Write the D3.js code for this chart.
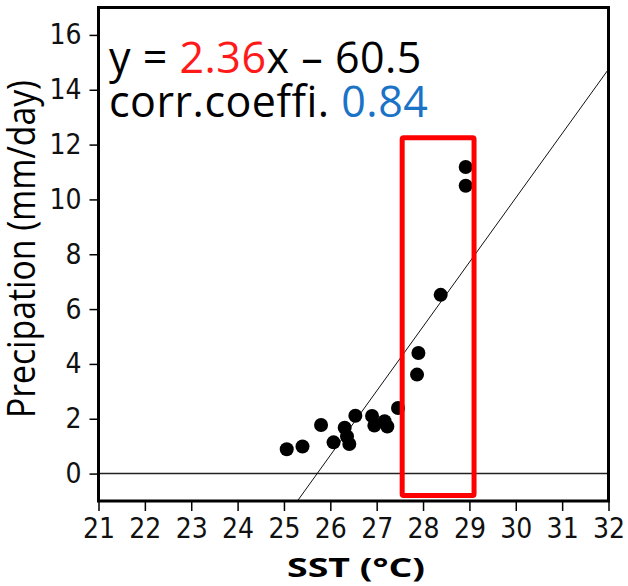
<!DOCTYPE html>
<html>
<head>
<meta charset="utf-8">
<script src="https://cdn.jsdelivr.net/npm/d3@7"></script>
<style>
  body { margin: 0; background: #fff; }
</style>
</head>
<body>
<div id="scatter"></div>
<script>
// data
const sstValues  = [25.06, 25.40, 25.80, 26.07, 26.31, 26.41, 26.36, 26.54, 26.90, 26.95, 27.17, 27.23, 27.46, 27.90, 27.87, 28.38, 28.92, 28.92];
const precValues = [0.89, 0.99, 1.77, 1.14, 1.67, 1.08, 1.35, 2.11, 2.10, 1.75, 1.91, 1.72, 2.39, 4.40, 3.61, 6.52, 11.18, 10.50];
const xTicks = [21, 22, 23, 24, 25, 26, 27, 28, 29, 30, 31, 32];
const yTicks = [0, 2, 4, 6, 8, 10, 12, 14, 16];
// regression line as drawn (end points on the frame)
const fitX = [25.29, 32];
const fitY = [-1, 14.75];
// highlighted SST band
const boxX = [27.55, 29.1];
const boxY = [-0.8, 12.25];
const slopeText = "2.36";
const interceptText = "60.5";
const corrText = "0.84";

const width = 628, height = 586;

const svg = d3.select("#scatter")
    .append("svg")
    .attr("width", width)
    .attr("height", height);

const x = d3.scaleLinear().domain([21, 32]).range([98.5, 608.5]);
const y = d3.scaleLinear().domain([-1, 17]).range([501, 7.5]);

const points = sstValues.map((s, i) => ({sst: s, prec: precValues[i]}));

//x axis with ticks below
const xAxisG = svg.append("g")
    .attr("transform", "translate(0," + y(-1) + ")")
    .call(d3.axisBottom(x).tickValues(xTicks).tickSize(10).tickPadding(7).tickFormat(d3.format("d")));
xAxisG.select(".domain").remove();

//y axis with ticks on the left
const yAxisG = svg.append("g")
    .attr("transform", "translate(" + x(21) + ",0)")
    .call(d3.axisLeft(y).tickValues(yTicks).tickSize(9).tickPadding(8).tickFormat(d3.format("d")));
yAxisG.select(".domain").remove();

svg.selectAll(".tick line").attr("stroke", "#000").attr("stroke-width", 1.5);
svg.selectAll(".tick text")
    .attr("fill", "#111")
    .style("font-family", "'Liberation Sans Narrow', 'DejaVu Sans Condensed', sans-serif")
    .style("font-size", "28px");

// zero line
svg.append("line")
    .attr("x1", x(21)).attr("x2", x(32))
    .attr("y1", y(0)).attr("y2", y(0))
    .attr("stroke", "#222")
    .attr("stroke-width", 1.5);

// regression line
svg.append("line")
    .attr("x1", x(fitX[0])).attr("y1", y(fitY[0]))
    .attr("x2", x(fitX[1])).attr("y2", y(fitY[1]))
    .attr("stroke", "#111")
    .attr("stroke-width", 1);

// data points
svg.selectAll(".dot")
    .data(points)
    .enter().append("circle")
    .attr("class", "dot")
    .attr("cx", d => x(d.sst))
    .attr("cy", d => y(d.prec))
    .attr("r", 7)
    .attr("fill", "#000");

// red box
svg.append("rect")
    .attr("x", x(boxX[0]))
    .attr("y", y(boxY[1]))
    .attr("width", x(boxX[1]) - x(boxX[0]))
    .attr("height", y(boxY[0]) - y(boxY[1]))
    .attr("rx", 1.5)
    .attr("fill", "none")
    .attr("stroke", "#ff0000")
    .attr("stroke-width", 5);

// frame
svg.append("rect")
    .attr("x", x(21))
    .attr("y", y(17))
    .attr("width", x(32) - x(21))
    .attr("height", y(-1) - y(17))
    .attr("fill", "none")
    .attr("stroke", "#000")
    .attr("stroke-width", 3);

// equation text
const eq = svg.append("text")
    .attr("x", 109)
    .attr("y", 73)
    .style("font-family", "'Open Sans', sans-serif")
    .style("font-size", "43px")
    .style("letter-spacing", "0.5px")
    .attr("fill", "#000");
eq.append("tspan").text("y = ");
eq.append("tspan").attr("fill", "#ff1a1a").text(slopeText);
eq.append("tspan").text("x \u2013 " + interceptText);

const cc = svg.append("text")
    .attr("x", 109)
    .attr("y", 117)
    .style("font-family", "'Open Sans', sans-serif")
    .style("font-size", "43px")
    .style("letter-spacing", "0.5px")
    .attr("fill", "#000");
cc.append("tspan").text("corr.coeffi. ");
cc.append("tspan").attr("fill", "#1a73c6").text(corrText);

// Add X axis label
svg.append("text")
    .attr("x", 356)
    .attr("y", 577)
    .attr("text-anchor", "middle")
    .attr("textLength", 138)
    .attr("lengthAdjust", "spacingAndGlyphs")
    .style("font-family", "'Open Sans', sans-serif")
    .style("font-weight", "bold")
    .style("font-size", "26px")
    .text("SST (\u00B0C)");

// Add Y axis label
svg.append("text")
    .attr("transform", "translate(35,249) rotate(-90)")
    .attr("text-anchor", "middle")
    .attr("textLength", 338)
    .attr("lengthAdjust", "spacingAndGlyphs")
    .style("font-family", "'Open Sans', sans-serif")
    .style("font-size", "38px")
    .text("Precipation (mm/day)");
</script>
</body>
</html>
